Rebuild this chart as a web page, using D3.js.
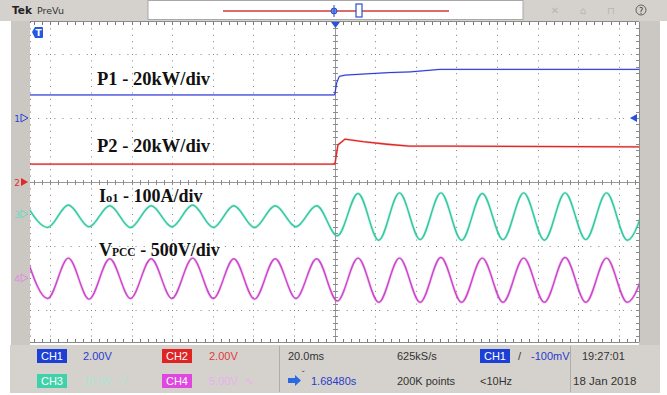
<!DOCTYPE html>
<html><head><meta charset="utf-8">
<script src="https://cdn.jsdelivr.net/npm/d3@7"></script>
<style>body{margin:0;background:#fff;} svg{display:block}</style>
</head><body>
<svg id="c" width="667" height="395"></svg>
<script>
// ---------- DATA (time in ms, values in graticule divisions) ----------
const p1Time = [-150, 0, 0.25, 1.08, 2.36, 5.2, 15.9, 27.3, 37.2, 52, 150];
const p1Div  = [1.36, 1.36, 1.39, 1.55, 1.65, 1.67, 1.69, 1.71, 1.72, 1.76, 1.76];
const p2Time = [-150, 0, 0.25, 1.7, 5.2, 14, 25.9, 37, 57, 150];
const p2Div  = [0.28, 0.28, 0.29, 0.58, 0.67, 0.63, 0.59, 0.56, 0.56, 0.55];
const extremaTime = [-151.5,-141.3,-131.1,-120.9,-110.7,-100.5,-90.3,-80.1,-69.9,-59.7,-49.6,-39.4,-29.2,-19.0,-8.8,1.4,11.6,21.8,32.0,42.2,52.4,62.6,72.8,83.0,93.2,103.4,113.6,123.8,134.0,144.2,154.4];
const io1Div = [-0.37,-0.71,-0.36,-0.70,-0.37,-0.71,-0.37,-0.70,-0.36,-0.71,-0.37,-0.71,-0.37,-0.70,-0.37,-0.84,-0.18,-0.91,-0.17,-0.90,-0.17,-0.91,-0.18,-0.90,-0.17,-0.91,-0.17,-0.90,-0.17,-0.91,-0.17];
const vpccDiv = [-1.20,-1.82,-1.19,-1.83,-1.20,-1.82,-1.20,-1.82,-1.19,-1.82,-1.20,-1.83,-1.20,-1.82,-1.20,-1.86,-1.19,-1.88,-1.19,-1.88,-1.18,-1.88,-1.19,-1.88,-1.19,-1.88,-1.18,-1.88,-1.19,-1.88,-1.19];
const traceLabels = ["P1 - 20kW/div", "P2 - 20kW/div", " - 100A/div", " - 500V/div"];
const chanMarkers = [{n:"1", lvl:1, c:"#2a44d8"}, {n:"2", lvl:0, c:"#e02a2a"}, {n:"3", lvl:-0.5, c:"#6fd8bc"}, {n:"4", lvl:-1.5, c:"#e08ae0"}];
const statusRow1 = ["2.00V", "2.00V", "20.0ms", "625kS/s", "-100mV", "19:27:01"];
const statusRow2 = ["10.0V", "5.00V", "1.68480s", "200K points", "<10Hz", "18 Jan 2018"];

// ---------- SETUP ----------
const svg = d3.select('#c');
const P = {l:30, r:639, t:22, b:342};
const x = d3.scaleLinear().domain([-150,150]).range([P.l,P.r]);
const y = d3.scaleLinear().domain([-2.5,2.5]).range([P.b,P.t]);
const gray = "#d5d2cd", strip = "#cbc8c3";

svg.append('rect').attr('width',667).attr('height',395).attr('fill','#fff');
svg.append('rect').attr('x',0).attr('y',0).attr('width',667).attr('height',21).attr('fill',gray);
svg.append('rect').attr('x',11).attr('y',21).attr('width',19).attr('height',324).attr('fill',strip);
svg.append('rect').attr('x',639).attr('y',21).attr('width',21).attr('height',324).attr('fill',strip);
svg.append('rect').attr('x',10).attr('y',345).attr('width',650).attr('height',48).attr('fill',gray);
svg.append('rect').attr('x',P.l).attr('y',P.t-1).attr('width',P.r-P.l).attr('height',P.b-P.t+3).attr('fill','#fff');

// ---------- TOP BAR ----------
const topBar = svg.append('g');
topBar.append('text').attr('x',12).attr('y',14).attr('font-family','DejaVu Sans').attr('font-weight','bold').attr('font-size',10.5).attr('fill','#222').text('Tek');
topBar.append('text').attr('x',37).attr('y',14).attr('font-family','DejaVu Sans').attr('font-size',9.5).attr('fill','#333').text('PreVu');
topBar.append('rect').attr('x',148).attr('y',0.5).attr('width',375).attr('height',19).attr('fill','#fff').attr('stroke','#a8a8a8');
topBar.append('line').attr('x1',223).attr('x2',449).attr('y1',11).attr('y2',11).attr('stroke','#d43a3a').attr('stroke-width',1.6);
topBar.append('circle').attr('cx',334).attr('cy',11).attr('r',3).attr('fill','#6b8fe0').attr('stroke','#2a4fd0');
topBar.append('line').attr('x1',334).attr('x2',334).attr('y1',5).attr('y2',17).attr('stroke','#2a4fd0').attr('stroke-width',1);
topBar.append('rect').attr('x',356).attr('y',4).attr('width',6).attr('height',13).attr('fill','#fff').attr('stroke','#2a4fd0').attr('stroke-width',1.2);
[555,583,611].forEach(cx=>{
  topBar.append('text').attr('x',cx).attr('y',14).attr('text-anchor','middle').attr('font-family','DejaVu Sans').attr('font-size',10).attr('fill','#b8b5b0').text(cx===555?'✕':(cx===583?'⌂':'⊓'));
});
topBar.append('circle').attr('cx',641).attr('cy',10).attr('r',5).attr('fill','none').attr('stroke','#555').attr('stroke-width',0.9);
topBar.append('text').attr('x',641).attr('y',13.5).attr('text-anchor','middle').attr('font-family','DejaVu Sans').attr('font-size',8).attr('fill','#333').text('?');

// ---------- GRATICULE ----------
const g = svg.append('g');
const gridT = d3.range(-140,141,20).filter(t=>t!==0);
g.selectAll('.vg').data(gridT.concat([-150])).join('line')
  .attr('x1',d=>Math.round(x(d))+0.5).attr('x2',d=>Math.round(x(d))+0.5).attr('y1',P.t).attr('y2',P.b)
  .attr('stroke','#808080').attr('stroke-width',1).attr('stroke-dasharray','1,5.4');
const gridY = [-2,-1,1,2];
g.selectAll('.hg').data(gridY).join('line')
  .attr('x1',P.l).attr('x2',P.r).attr('y1',d=>Math.round(y(d))+0.5).attr('y2',d=>Math.round(y(d))+0.5)
  .attr('stroke','#808080').attr('stroke-width',1).attr('stroke-dasharray','1,7.12');
const cx0 = Math.round(x(0))+0.5, cy0 = Math.round(y(0))+0.5;
g.append('line').attr('x1',cx0).attr('x2',cx0).attr('y1',P.t).attr('y2',P.b).attr('stroke','#9a9a9a');
g.append('line').attr('x1',P.l).attr('x2',P.r).attr('y1',cy0).attr('y2',cy0).attr('stroke','#9a9a9a');
const minorT = d3.range(-148,149,4);
g.selectAll('.ct').data(minorT).join('line')
  .attr('x1',d=>Math.round(x(d))+0.5).attr('x2',d=>Math.round(x(d))+0.5).attr('y1',cy0-2.5).attr('y2',cy0+2.5)
  .attr('stroke','#8a8a8a');
const minorY = d3.range(-24,25,1).map(v=>v/10);
g.selectAll('.cy').data(minorY).join('line')
  .attr('x1',cx0-2.5).attr('x2',cx0+2.5).attr('y1',d=>Math.round(y(d))+0.5).attr('y2',d=>Math.round(y(d))+0.5)
  .attr('stroke','#8a8a8a');
g.append('line').attr('x1',P.l).attr('x2',P.r).attr('y1',P.t-0.5).attr('y2',P.t-0.5).attr('stroke','#8a8a8a');
g.append('line').attr('x1',P.l).attr('x2',P.r).attr('y1',P.b+0.5).attr('y2',P.b+0.5).attr('stroke','#8a8a8a');
g.append('line').attr('x1',P.r+0.5).attr('x2',P.r+0.5).attr('y1',P.t).attr('y2',P.b).attr('stroke','#8a8a8a');
g.selectAll('.tt').data(minorT).join('line')
  .attr('x1',d=>Math.round(x(d))+0.5).attr('x2',d=>Math.round(x(d))+0.5).attr('y1',P.t).attr('y2',P.t+3)
  .attr('stroke','#7a7a7a');
g.selectAll('.bt').data(minorT).join('line')
  .attr('x1',d=>Math.round(x(d))+0.5).attr('x2',d=>Math.round(x(d))+0.5).attr('y1',P.b-3).attr('y2',P.b)
  .attr('stroke','#7a7a7a');
g.selectAll('.rt').data(minorY).join('line')
  .attr('x1',P.r-3).attr('x2',P.r).attr('y1',d=>Math.round(y(d))+0.5).attr('y2',d=>Math.round(y(d))+0.5)
  .attr('stroke','#8a8a8a');

// ---------- TRACES ----------
svg.append('clipPath').attr('id','clip').append('rect').attr('x',P.l).attr('y',P.t).attr('width',P.r-P.l).attr('height',P.b-P.t);
const tr = svg.append('g').attr('clip-path','url(#clip)');
const zip = (a,b)=>a.map((v,i)=>[v,b[i]]);
const lin = d3.line().x(d=>x(d[0])).y(d=>y(d[1]));
const sm = d3.line().x(d=>x(d[0])).y(d=>y(d[1])).curve(d3.curveMonotoneX);
function trace(path, col, w, glow){
  tr.append('path').attr('d',path).attr('fill','none').attr('stroke',col).attr('stroke-opacity',0.25).attr('stroke-width',w+glow);
  tr.append('path').attr('d',path).attr('fill','none').attr('stroke',col).attr('stroke-width',w);
}
trace(sm(zip(extremaTime,vpccDiv)), '#cc44cc', 1.4, 1.4);
trace(sm(zip(extremaTime,io1Div)), '#30c8a0', 1.4, 1.4);
trace(lin(zip(p2Time,p2Div)), '#e02828', 1.3, 1.0);
trace(lin(zip(p1Time,p1Div)), '#2a34d6', 1.0, 0.8);

// ---------- MARKERS ----------
const m = svg.append('g');
m.append('path').attr('d',`M${cx0-4.5},${P.t} L${cx0+4.5},${P.t} L${cx0},${P.t+6} Z`).attr('fill','#2a50e0');
m.append('path').attr('d','M32,32 L35,27 L42,27 Q43,27 43,28 L43,37 Q43,38 42,38 L35,38 Z').attr('fill','#2458e0');
m.append('text').attr('x',38.5).attr('y',36).attr('text-anchor','middle').attr('font-family','DejaVu Sans').attr('font-weight','bold').attr('font-size',9).attr('fill','#fff').text('T');
chanMarkers.forEach(cm=>{
  const yy = Math.round(y(cm.lvl));
  m.append('text').attr('x',17).attr('y',yy+3.5).attr('text-anchor','middle').attr('font-family','DejaVu Sans').attr('font-size',9).attr('fill',cm.c).text(cm.n);
  const tri = m.append('path').attr('d',`M21,${yy-4} L28,${yy} L21,${yy+4} Z`);
  if(cm.n==="2") tri.attr('fill',cm.c); else tri.attr('fill','none').attr('stroke',cm.c).attr('stroke-width',1);
});
const ty = Math.round(y(1));
m.append('path').attr('d',`M630,${ty} L637,${ty-4} L637,${ty+4} Z`).attr('fill','#2a50e0');

// ---------- LABELS ----------
const L = svg.append('g').attr('font-family','Liberation Serif').attr('font-weight','bold').attr('fill','#111');
L.append('text').attr('x',97).attr('y',85).attr('font-size',18.5).text(traceLabels[0]);
L.append('text').attr('x',97).attr('y',152).attr('font-size',18.5).text(traceLabels[1]);
const t3 = L.append('text').attr('x',99).attr('y',202).attr('font-size',18);
t3.append('tspan').text('I');
t3.append('tspan').attr('font-size',12.5).text('o1');
t3.append('tspan').text(traceLabels[2]);
const t4 = L.append('text').attr('x',99).attr('y',256).attr('font-size',18);
t4.append('tspan').text('V');
t4.append('tspan').attr('font-size',11.5).text('PCC');
t4.append('tspan').text(traceLabels[3]);

// ---------- STATUS PANEL ----------
const S = svg.append('g').attr('font-family','Liberation Sans').attr('font-size',11);
S.append('line').attr('x1',279.5).attr('x2',279.5).attr('y1',346).attr('y2',392).attr('stroke','#b0ada8');
S.append('line').attr('x1',570.5).attr('x2',570.5).attr('y1',346).attr('y2',392).attr('stroke','#b0ada8');
function box(x0,y0,label,col){
  S.append('rect').attr('x',x0).attr('y',y0).attr('width',30).attr('height',14).attr('fill',col);
  S.append('text').attr('x',x0+15).attr('y',y0+11).attr('text-anchor','middle').attr('fill','#fff').text(label);
}
box(37,349,'CH1','#1c3fd6'); box(162,349,'CH2','#e02424');
box(37,374,'CH3','#3fd2aa'); box(162,374,'CH4','#e046e0');
box(480,349,'CH1','#1c3fd6');
S.append('text').attr('x',83).attr('y',360).attr('fill','#2a3ccc').text(statusRow1[0]);
S.append('text').attr('x',209).attr('y',360).attr('fill','#e03a3a').text(statusRow1[1]);
S.append('text').attr('x',288).attr('y',360).attr('fill','#333').text(statusRow1[2]);
S.append('text').attr('x',397).attr('y',360).attr('fill','#333').text(statusRow1[3]);
S.append('text').attr('x',518).attr('y',360).attr('fill','#333').text('/');
S.append('text').attr('x',531).attr('y',360).attr('fill','#2a3ccc').text(statusRow1[4]);
S.append('text').attr('x',582).attr('y',360).attr('fill','#333').text(statusRow1[5]);
S.append('text').attr('x',83).attr('y',385).attr('fill','#a8e6d4').text(statusRow2[0]);
S.append('text').attr('x',121).attr('y',385).attr('fill','#a8e6d4').text('√');
S.append('text').attr('x',209).attr('y',385).attr('fill','#eab0ea').text(statusRow2[1]);
S.append('text').attr('x',245).attr('y',385).attr('fill','#eab0ea').text('∿');
S.append('path').attr('d','M288,378 L295,378 L295,375 L301,380.5 L295,386 L295,383 L288,383 Z').attr('fill','#2a6ae0');
S.append('text').attr('x',302).attr('y',376).attr('font-size',8).attr('fill','#333').text('˘');
S.append('text').attr('x',311).attr('y',385).attr('fill','#2a3ccc').text(statusRow2[2]);
S.append('text').attr('x',397).attr('y',385).attr('fill','#333').text(statusRow2[3]);
S.append('text').attr('x',480).attr('y',385).attr('fill','#333').text(statusRow2[4]);
S.append('text').attr('x',573).attr('y',385).attr('font-size',11.5).attr('fill','#333').text(statusRow2[5]);
</script>
</body></html>
